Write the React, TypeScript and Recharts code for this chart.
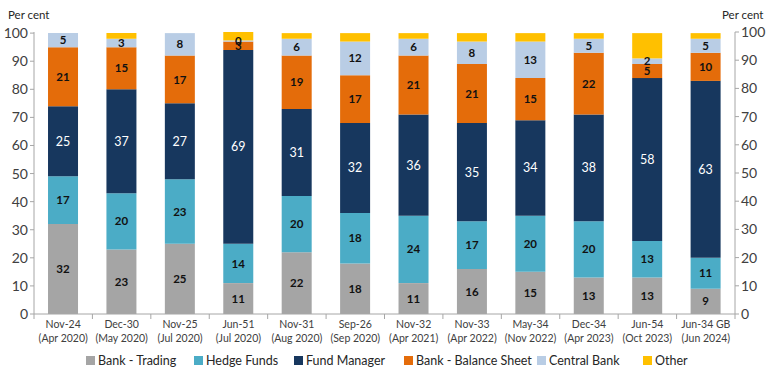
import { ComposedChart, Bar, Line, XAxis, YAxis, LabelList } from "recharts";

const months = ["Nov-24", "Dec-30", "Nov-25", "Jun-51", "Nov-31", "Sep-26", "Nov-32", "Nov-33", "May-34", "Dec-34", "Jun-54", "Jun-34 GB"];
const dates = ["(Apr 2020)", "(May 2020)", "(Jul 2020)", "(Jul 2020)", "(Aug 2020)", "(Sep 2020)", "(Apr 2021)", "(Apr 2022)", "(Nov 2022)", "(Apr 2023)", "(Oct 2023)", "(Jun 2024)"];

const bankTrading = [32, 23, 25, 11, 22, 18, 11, 16, 15, 13, 13, 9];
const hedgeFunds = [17, 20, 23, 14, 20, 18, 24, 17, 20, 20, 13, 11];
const fundManager = [25, 37, 27, 69, 31, 32, 36, 35, 34, 38, 58, 63];
const bankBalance = [21, 15, 17, 3, 19, 17, 21, 21, 15, 22, 5, 10];
const centralBank = [5, 3, 8, 0.4, 6, 12, 6, 8, 13, 5, 2, 5];
const other = [0, 2, 0, 3, 2, 3, 2, 3, 3, 2, 9, 2];

const yTicks = [0, 10, 20, 30, 40, 50, 60, 70, 80, 90, 100];

const data = months.map((m, i) => ({
  name: m,
  date: dates[i],
  trading: bankTrading[i],
  hedge: hedgeFunds[i],
  fund: fundManager[i],
  balance: bankBalance[i],
  central: centralBank[i],
  other: other[i],
  total: 100,
}));

const series = [
  { key: "trading", name: "Bank - Trading", color: "#a5a5a5" },
  { key: "hedge", name: "Hedge Funds", color: "#4bacc6" },
  { key: "fund", name: "Fund Manager", color: "#17375e" },
  { key: "balance", name: "Bank - Balance Sheet", color: "#e46c0a" },
  { key: "central", name: "Central Bank", color: "#b9cde5" },
  { key: "other", name: "Other", color: "#ffc000" },
];
const legendX = [86, 194, 294, 404, 537, 643];

const FONT = "Lato, 'Open Sans', sans-serif";
const W = 768;
const CH = 362;
const M = { top: 32, right: 3, bottom: 12, left: 4 };
const AXIS_W = 30;
const plotW = W - M.left - M.right - 2 * AXIS_W;
const band = plotW / months.length;

const XTick = (props: any) => {
  const { x, y, payload, index } = props;
  const d = data[index] || data.find((r) => r.name === payload.value);
  return (
    <g>
      <line x1={x - band / 2} x2={x - band / 2} y1={y - 8} y2={y - 3} stroke="#a6a6a6" />
      {index === months.length - 1 && (
        <line x1={x + band / 2} x2={x + band / 2} y1={y - 8} y2={y - 3} stroke="#a6a6a6" />
      )}
      <text x={x} y={y + 6} textAnchor="middle" fontSize={10.5} fill="#404040" fontFamily={FONT}>
        {payload.value}
      </text>
      <text x={x} y={y + 20} textAnchor="middle" fontSize={10.5} fill="#404040" fontFamily={FONT}>
        {d ? d.date : ""}
      </text>
    </g>
  );
};

const fmt = (v: any) => Math.round(Number(v));

export default function App() {
  return (
    <div style={{ position: "absolute", left: 0, top: 0, width: W, height: 376, background: "#fff" }}>
      <div style={{ position: "absolute", left: 8, top: 8, fontFamily: FONT, fontSize: 11.5, color: "#262626" }}>Per cent</div>
      <div style={{ position: "absolute", left: 722, top: 8, fontFamily: FONT, fontSize: 11.5, color: "#262626" }}>Per cent</div>
      <ComposedChart width={W} height={CH} data={data} margin={M} barCategoryGap="24%">
        <XAxis
          dataKey="name"
          interval={0}
          tickLine={false}
          axisLine={{ stroke: "#a6a6a6" }}
          tick={<XTick />}
          height={36}
        />
        <YAxis
          yAxisId="left"
          orientation="left"
          domain={[0, 100]}
          ticks={yTicks}
          width={AXIS_W}
          tickSize={4}
          tickMargin={2}
          axisLine={{ stroke: "#a6a6a6" }}
          tickLine={{ stroke: "#a6a6a6" }}
          tick={{ fontSize: 14, fill: "#404040", fontFamily: FONT }}
        />
        <YAxis
          yAxisId="right"
          orientation="right"
          domain={[0, 100]}
          ticks={yTicks}
          width={AXIS_W}
          tickSize={4}
          tickMargin={2}
          axisLine={{ stroke: "#a6a6a6" }}
          tickLine={{ stroke: "#a6a6a6" }}
          tick={{ fontSize: 14, fill: "#404040", fontFamily: FONT }}
        />
        {series.map((s) => (
          <Bar key={s.key} dataKey={s.key} name={s.name} stackId="a" yAxisId="left" fill={s.color} isAnimationActive={false}>
            {s.key !== "other" && (
              <LabelList
                dataKey={s.key}
                position="center"
                formatter={fmt}
                fill={s.key === "fund" ? "#ffffff" : "#111111"}
                fontSize={s.key === "fund" ? 12.5 : 11.5}
                fontWeight={s.key === "fund" ? 400 : 700}
                fontFamily={FONT}
              />
            )}
          </Bar>
        ))}
        <Line yAxisId="right" dataKey="total" stroke="none" dot={false} activeDot={false} isAnimationActive={false} legendType="none" />
      </ComposedChart>
      {series.map((s, i) => (
        <div
          key={s.key}
          style={{ position: "absolute", left: legendX[i], top: 353, display: "flex", alignItems: "center", fontFamily: FONT, fontSize: 12.5, color: "#262626", whiteSpace: "nowrap" }}
        >
          <span style={{ width: 9, height: 9, background: s.color, display: "inline-block", marginRight: 3 }} />
          <span>{s.name}</span>
        </div>
      ))}
    </div>
  );
}
